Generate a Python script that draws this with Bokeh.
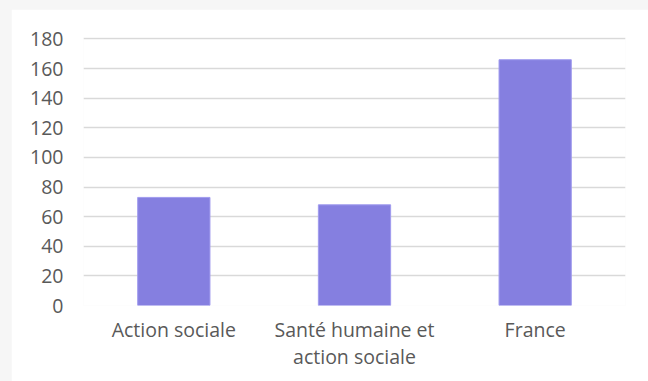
from bokeh.plotting import figure
from bokeh.models import Range1d, ColumnDataSource, CategoricalAxis, CustomJSTickFormatter
from bokeh.layouts import column
from bokeh.embed import file_html
from bokeh.resources import INLINE

categories = ["Action sociale", "Santé humaine et action sociale", "France"]
first_line = ["Action sociale", "Santé humaine et", "France"]
second_line = ["", "action sociale", ""]
values = [73, 68, 166]
y_ticks = [0, 20, 40, 60, 80, 100, 120, 140, 160, 180]

FONT = "Open Sans"
TEXT = "#595959"
SIZE = "19.5px"

source = ColumnDataSource(data=dict(cat=categories, val=values))

p = figure(
    x_range=categories,
    y_range=Range1d(0, 181),
    width=637, height=372,
    output_backend="svg",
    toolbar_location=None,
    min_border_left=72, min_border_right=23,
    min_border_top=28, min_border_bottom=76,
    background_fill_color="white",
    border_fill_color="white",
    outline_line_color=None,
)
p.margin = (9, 0, 0, 11)

p.vbar(x="cat", top="val", width=0.4, source=source,
       fill_color="#857fe0", line_color="#a09bee", line_width=1)


def line_formatter(lines):
    # show one line of a wrapped category name under each factor
    return CustomJSTickFormatter(
        args=dict(names=categories, lines=lines),
        code="const i = names.indexOf(tick); return i >= 0 ? lines[i] : tick;",
    )


# second row of category text, for names that wrap onto two lines
wrap_axis = CategoricalAxis()
p.add_layout(wrap_axis, "below")

p.yaxis.ticker = y_ticks
p.xgrid.grid_line_color = None
p.ygrid.grid_line_color = "#d9d9d9"
p.ygrid.grid_line_width = 1.5

for ax in (p.xaxis + p.yaxis):
    ax.axis_line_color = None
    ax.major_tick_line_color = None
    ax.minor_tick_line_color = None
    ax.major_tick_out = 0
    ax.major_tick_in = 0
    ax.major_label_text_font = FONT
    ax.major_label_text_color = TEXT
    ax.major_label_text_font_size = SIZE

p.yaxis.major_label_standoff = 20

main_axis = p.xaxis[0]
main_axis.major_label_standoff = 10
main_axis.formatter = line_formatter(first_line)
wrap_axis.major_label_standoff = -3
wrap_axis.formatter = line_formatter(second_line)

page = column(p, width=648, height=381,
              styles={"background-color": "#f6f6f6"})

open("out.html", "w").write(file_html(page, INLINE))
